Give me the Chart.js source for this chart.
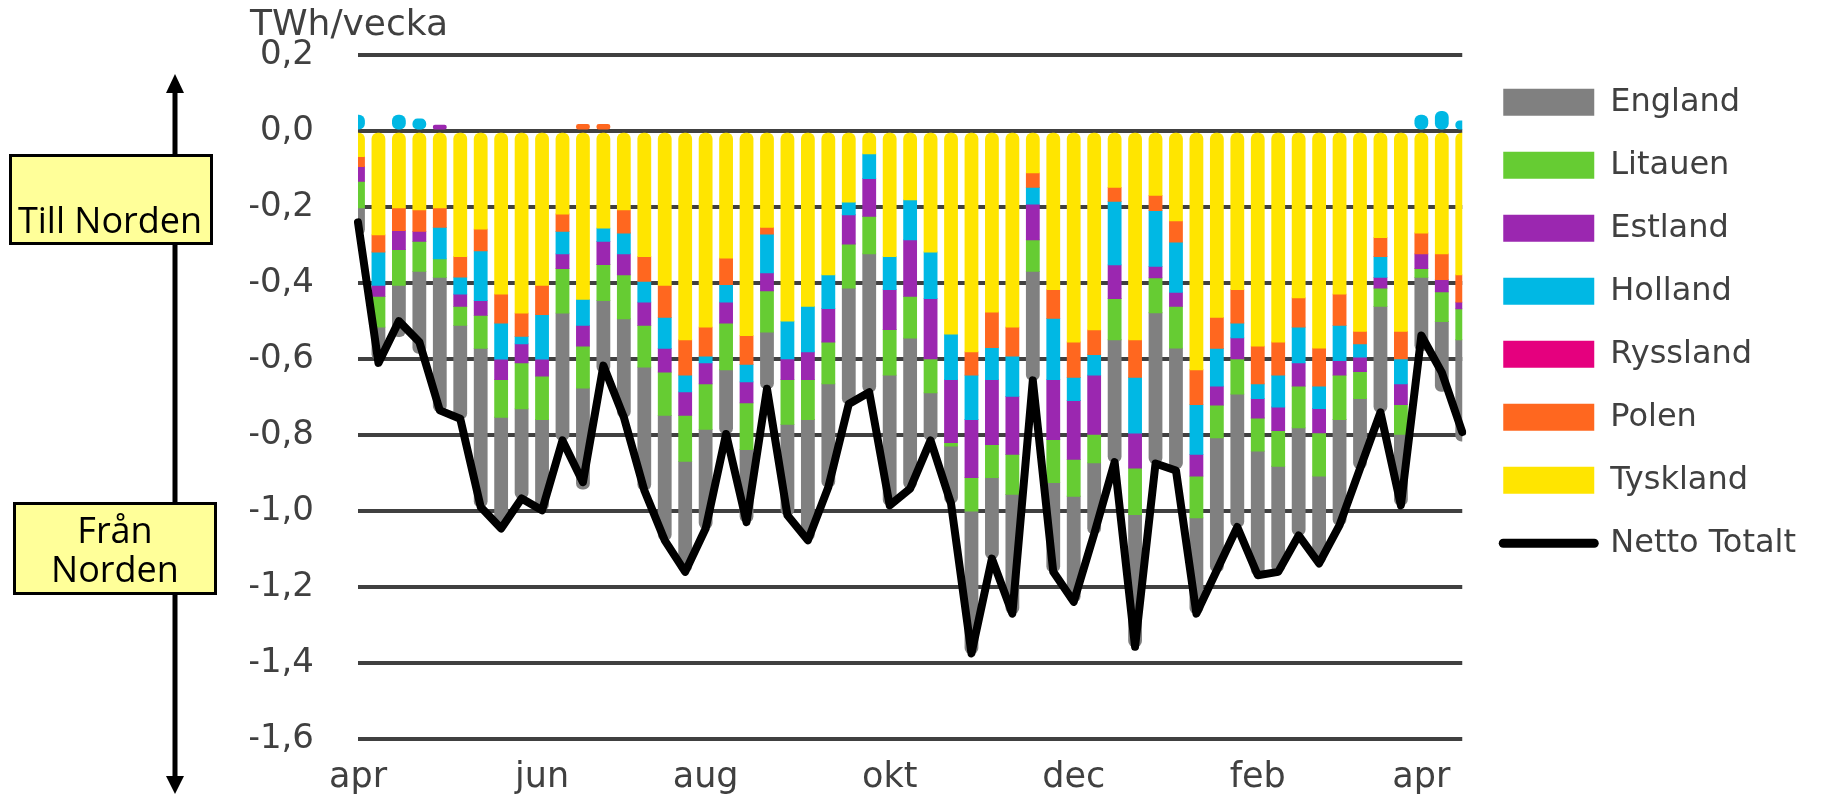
<!DOCTYPE html>
<html>
<head>
<meta charset="utf-8">
<script src="https://cdn.jsdelivr.net/npm/chart.js@4.4.1/dist/chart.umd.min.js"></script>
<style>
    html, body { margin: 0; padding: 0; background: #fff; }
    #wrap { width: 1823px; height: 798px; }
</style>
</head>
<body>
<div id="wrap"><canvas id="myChart"></canvas></div>
<script>
/* Weeks (categories) */
const weeks = ['v14','v15','v16','v17','v18','v19','v20','v21','v22','v23','v24','v25','v26','v27','v28','v29','v30','v31','v32','v33',
    'v34','v35','v36','v37','v38','v39','v40','v41','v42','v43','v44','v45','v46','v47','v48','v49','v50','v51','v52',
    'v1','v2','v3','v4','v5','v6','v7','v8','v9','v10','v11','v12','v13','v14','v15','v16'];

/* Month tick labels and the week index they sit on */
const monthLabels = ['apr', 'jun', 'aug', 'okt', 'dec', 'feb', 'apr'];
const monthIndex = [0, 9, 17, 26, 35, 44, 52];

/* Series, TWh/vecka (negative = from the Nordic area) */
const tyskland = [-0.067,-0.273,-0.202,-0.207,-0.202,-0.330,-0.258,-0.429,-0.479,-0.406,-0.218,-0.443,-0.255,-0.207,-0.330,-0.406,-0.549,-0.516,-0.334,-0.538,
    -0.253,-0.500,-0.461,-0.378,-0.187,-0.060,-0.330,-0.181,-0.318,-0.534,-0.581,-0.476,-0.516,-0.110,-0.417,-0.555,-0.523,-0.148,-0.549,-0.169,
    -0.236,-0.628,-0.490,-0.417,-0.566,-0.555,-0.439,-0.571,-0.429,-0.527,-0.280,-0.527,-0.268,-0.323,-0.378];
const polen = [-0.026,-0.045,-0.060,-0.057,-0.051,-0.054,-0.057,-0.076,-0.061,-0.077,-0.046,0.018,0.018,-0.061,-0.065,-0.084,-0.093,-0.076,-0.070,-0.076,
    -0.018,0,0,0,0,0,0,0,0,0,-0.061,-0.094,-0.076,-0.038,-0.076,-0.093,-0.065,-0.037,-0.099,-0.040,
    -0.056,-0.092,-0.082,-0.088,-0.099,-0.087,-0.077,-0.100,-0.082,-0.033,-0.050,-0.072,-0.055,-0.068,-0.072];
const ryssland = [0,0,0,0,0,0,0,0,0,0,0,0,0,0,0,0,0,0,0,0,
    0,0,0,0,0,0,0,0,0,0,0,0,0,0,0,0,0,0,0,0,
    0,0,0,0,0,0,0,0,0,0,0,0,0,0,0];
const holland = [0.042,-0.088,0.042,0.032,-0.083,-0.045,-0.131,-0.095,-0.020,-0.117,-0.059,-0.068,-0.035,-0.055,-0.055,-0.082,-0.044,-0.018,-0.046,-0.046,
    -0.102,-0.099,-0.120,-0.089,-0.033,-0.065,-0.087,-0.105,-0.123,-0.120,-0.117,-0.084,-0.106,-0.044,-0.161,-0.061,-0.054,-0.167,-0.147,-0.147,
    -0.132,-0.131,-0.099,-0.039,-0.039,-0.084,-0.094,-0.059,-0.093,-0.035,-0.055,-0.066,0.042,0.052,0.027];
const estland = [-0.039,-0.029,-0.050,-0.026,0.016,-0.032,-0.039,-0.054,-0.050,-0.045,-0.039,-0.055,-0.061,-0.055,-0.061,-0.062,-0.062,-0.055,-0.055,-0.055,
    -0.047,-0.055,-0.073,-0.088,-0.077,-0.099,-0.105,-0.149,-0.158,-0.166,-0.153,-0.171,-0.153,-0.094,-0.158,-0.155,-0.156,-0.089,-0.092,-0.030,
    -0.037,-0.057,-0.050,-0.055,-0.051,-0.062,-0.061,-0.064,-0.038,-0.038,-0.028,-0.055,-0.039,-0.032,-0.018];
const litauen = [-0.070,-0.081,-0.094,-0.079,-0.049,-0.050,-0.087,-0.099,-0.121,-0.114,-0.117,-0.110,-0.095,-0.116,-0.110,-0.114,-0.121,-0.120,-0.123,-0.123,
    -0.109,-0.118,-0.105,-0.110,-0.116,-0.099,-0.120,-0.110,-0.090,-0.009,-0.088,-0.087,-0.105,-0.083,-0.113,-0.097,-0.075,-0.108,-0.122,-0.092,
    -0.110,-0.110,-0.086,-0.093,-0.087,-0.094,-0.110,-0.114,-0.117,-0.071,-0.048,-0.078,-0.023,-0.078,-0.081];
const england = [-0.071,-0.086,-0.135,-0.216,-0.353,-0.246,-0.417,-0.293,-0.236,-0.239,-0.335,-0.266,-0.189,-0.259,-0.324,-0.329,-0.291,-0.261,-0.169,-0.191,
    -0.149,-0.239,-0.318,-0.272,-0.305,-0.364,-0.343,-0.396,-0.125,-0.151,-0.375,-0.213,-0.314,-0.287,-0.235,-0.278,-0.187,-0.322,-0.348,-0.397,
    -0.317,-0.252,-0.353,-0.350,-0.327,-0.278,-0.283,-0.230,-0.278,-0.184,-0.279,-0.187,-0.193,-0.184,-0.267];
const netto = [-0.24,-0.61,-0.50,-0.555,-0.735,-0.757,-0.989,-1.046,-0.967,-0.998,-0.814,-0.924,-0.617,-0.753,-0.945,-1.077,-1.160,-1.046,-0.797,-1.029,
    -0.678,-1.011,-1.077,-0.937,-0.718,-0.687,-0.985,-0.941,-0.814,-0.980,-1.375,-1.125,-1.270,-0.656,-1.160,-1.239,-1.06,-0.871,-1.357,-0.875,
    -0.893,-1.270,-1.156,-1.042,-1.169,-1.160,-1.064,-1.138,-1.037,-0.888,-0.740,-0.985,-0.538,-0.635,-0.792];

/* Colors */
const colors = {
    England: '#808080',
    Litauen: '#66cc33',
    Estland: '#9b27b0',
    Holland: '#00b8e4',
    Ryssland: '#e5007e',
    Polen: '#ff671f',
    Tyskland: '#ffe500'
};

/* Stack order from the zero line outwards */
const stackNames = ['Tyskland', 'Polen', 'Ryssland', 'Holland', 'Estland', 'Litauen', 'England'];
const stackSeries = [tyskland, polen, ryssland, holland, estland, litauen, england];
const legendOrder = ['England', 'Litauen', 'Estland', 'Holland', 'Ryssland', 'Polen', 'Tyskland', 'Netto Totalt'];

/* Round only the two outer ends of each stacked bar */
function capRadius(c) {
    const r = 6;
    const i = c.dataIndex, d = c.datasetIndex;
    const v = stackSeries[d] ? stackSeries[d][i] : 0;
    if (!v) return 0;
    let first = true, last = true;
    for (let k = 0; k < stackSeries.length; k++) {
        if (k === d || Math.sign(stackSeries[k][i]) !== Math.sign(v)) continue;
        if (k < d) first = false; else last = false;
    }
    const inner = first ? r : 0, outer = last ? r : 0;
    if (v < 0) return {topLeft: inner, topRight: inner, bottomLeft: outer, bottomRight: outer};
    return {topLeft: outer, topRight: outer, bottomLeft: inner, bottomRight: inner};
}

const barSets = stackNames.map((name, k) => ({
    label: name,
    data: stackSeries[k],
    backgroundColor: colors[name],
    borderWidth: 0,
    borderSkipped: false,
    borderRadius: capRadius,
    inflateAmount: c => (c.raw === 0 ? 0 : 0.4),
    barThickness: 13
}));

/* Left side labels and double arrow */
const sideLabels = {
    id: 'sideLabels',
    afterDraw(chart) {
        const c = chart.ctx;
        c.save();
        c.strokeStyle = '#000';
        c.fillStyle = '#000';
        c.lineWidth = 5;
        c.beginPath(); c.moveTo(175, 88); c.lineTo(175, 780); c.stroke();
        c.beginPath(); c.moveTo(175, 74); c.lineTo(166, 93); c.lineTo(184, 93); c.closePath(); c.fill();
        c.beginPath(); c.moveTo(175, 794); c.lineTo(166, 776); c.lineTo(184, 776); c.closePath(); c.fill();

        c.lineWidth = 3;
        c.fillStyle = '#ffff99';
        c.fillRect(10.5, 155.5, 201, 88);
        c.strokeRect(10.5, 155.5, 201, 88);
        c.fillRect(14.5, 503.5, 201, 90);
        c.strokeRect(14.5, 503.5, 201, 90);

        c.fillStyle = '#000';
        c.font = '36px "Open Sans"';
        c.textAlign = 'center';
        c.textBaseline = 'alphabetic';
        c.fillText('Till Norden', 110, 233);
        c.fillText('Från', 115, 543);
        c.fillText('Norden', 115, 582);
        c.restore();
    }
};

/* Nudge the legend a little further from the plot */
const legendNudge = {
    id: 'legendNudge',
    afterLayout(chart) {
        chart.legend.left += 10;
        chart.legend.right += 10;
    }
};

Chart.defaults.font.family = '"DejaVu Sans"';
Chart.defaults.color = '#404040';

const ctx = document.getElementById('myChart').getContext('2d');
const myChart = new Chart(ctx, {
    type: 'bar',
    data: {
        labels: weeks,
        datasets: [
            ...barSets,
            {
                type: 'line',
                label: 'Netto Totalt',
                data: netto,
                stack: 'netto',
                borderColor: '#000',
                backgroundColor: '#000',
                borderWidth: 8,
                borderCapStyle: 'round',
                borderJoinStyle: 'round',
                pointRadius: 0,
                tension: 0,
                order: -1
            }
        ]
    },
    options: {
        responsive: true,
        maintainAspectRatio: false,
        animation: false,
        layout: { padding: { left: 250, right: 27, top: 0, bottom: 0 } },
        scales: {
            x: {
                stacked: true,
                offset: false,
                afterFit: scale => { scale.height = 59; },
                grid: { display: false, drawTicks: false },
                border: { display: false },
                ticks: {
                    autoSkip: false,
                    maxRotation: 0,
                    padding: 18,
                    font: { size: 35 },
                    callback: (value, index) => {
                        const k = monthIndex.indexOf(index);
                        return k >= 0 ? monthLabels[k] : '';
                    }
                }
            },
            y: {
                stacked: true,
                min: -1.6,
                max: 0.2,
                afterFit: scale => {
                    scale.width = 108;
                    scale.paddingTop = 0;
                    scale.paddingBottom = 0;
                },
                grid: { color: '#404040', lineWidth: 4, drawTicks: false },
                border: { display: false },
                ticks: {
                    stepSize: 0.2,
                    padding: 44,
                    font: { size: 34 },
                    callback: v => v.toFixed(1).replace('.', ',')
                }
            }
        },
        plugins: {
            title: {
                display: true,
                text: 'TWh/vecka',
                align: 'start',
                color: '#404040',
                font: { size: 36, weight: 'normal' },
                padding: { top: 4, bottom: 8 }
            },
            legend: {
                position: 'right',
                align: 'start',
                fullSize: false,
                labels: {
                    usePointStyle: true,
                    pointStyleWidth: 91,
                    boxHeight: 27,
                    padding: 31,
                    color: '#404040',
                    font: { size: 32 },
                    generateLabels: chart => legendOrder.map(name => {
                        const di = chart.data.datasets.findIndex(ds => ds.label === name);
                        const isLine = chart.data.datasets[di].type === 'line';
                        return {
                            text: name,
                            datasetIndex: di,
                            fillStyle: isLine ? '#000' : colors[name],
                            strokeStyle: '#000',
                            lineWidth: isLine ? 9 : 0,
                            lineCap: 'round',
                            pointStyle: isLine ? 'line' : 'rect',
                            fontColor: '#404040',
                            hidden: false
                        };
                    })
                }
            },
            tooltip: { enabled: false }
        }
    },
    plugins: [sideLabels, legendNudge]
});
</script>
</body>
</html>
